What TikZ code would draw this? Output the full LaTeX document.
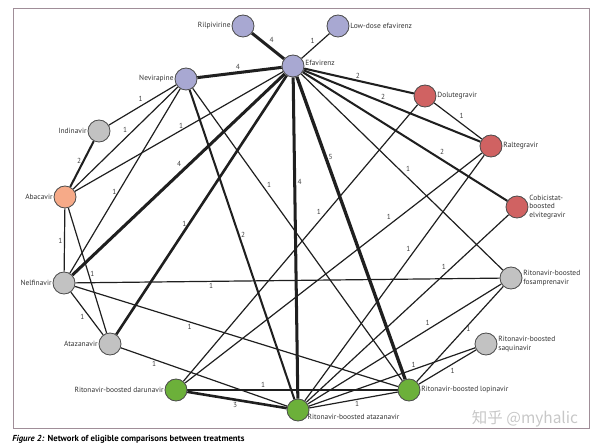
\documentclass[tikz,border=0pt]{standalone}
\usepackage{fontspec}
\setmainfont{PT Sans}
\newfontfamily\cjkfont{Noto Sans CJK SC}
\usepackage{tikz}
\usetikzlibrary{calc}
\pgfdeclarelayer{background}
\pgfsetlayers{background,main}
\definecolor{nnrti}{RGB}{168,168,210}
\definecolor{insti}{RGB}{208,98,98}
\definecolor{nrti}{RGB}{246,170,136}
\definecolor{pigray}{RGB}{194,194,194}
\definecolor{boosted}{RGB}{108,176,58}
\definecolor{framecol}{RGB}{160,142,152}
\tikzstyle{drug}  = [circle, minimum size=0.55cm, inner sep=0pt, draw=black!70, line width=0.6pt, label distance=1.2pt]
\tikzstyle{lbl}   = [font=\fontsize{5.3}{6}\selectfont, text=black!80, align=left, inner sep=0.5pt]
\tikzstyle{num}   = [font=\fontsize{5.2}{6}\selectfont, text=black!75, inner sep=1pt]
\tikzstyle{w1}    = [line width=0.85pt]
\tikzstyle{w2}    = [line width=1.45pt]
\tikzstyle{w3}    = [line width=1.85pt]
\tikzstyle{w4}    = [line width=2.15pt]
\tikzstyle{w5}    = [line width=2.35pt]

\begin{document}
\begin{tikzpicture}[x=0.025cm, y=-0.025cm]
  \useasboundingbox (0,0) rectangle (600,446);
  \draw[framecol, line width=0.7pt] (13,8) rectangle (589,428);
  % treatments
  \node[drug, fill=nnrti, label={[lbl]left:Rilpivirine}] (rpv) at (243,26) {};
  \node[drug, fill=nnrti, label={[lbl]right:Low-dose efavirenz}] (lde) at (338,26) {};
  \node[drug, fill=nnrti, label={[lbl, yshift=2.5pt]right:Efavirenz}] (efv) at (293,66) {};
  \node[drug, fill=nnrti, label={[lbl]left:Nevirapine}] (nvp) at (186,79) {};
  \node[drug, fill=insti, label={[lbl]right:Dolutegravir}] (dtg) at (425,96) {};
  \node[drug, fill=insti, label={[lbl]right:Raltegravir}] (ral) at (491,146) {};
  \node[drug, fill=insti, label={[lbl]right:Cobicistat-\\boosted\\elvitegravir}] (evg) at (517,207) {};
  \node[drug, fill=pigray, label={[lbl]left:Indinavir}] (idv) at (99,131) {};
  \node[drug, fill=nrti, label={[lbl]left:Abacavir}] (abc) at (65,197) {};
  \node[drug, fill=pigray, label={[lbl]left:Nelfinavir}] (nfv) at (64,283) {};
  \node[drug, fill=pigray, label={[lbl]left:Atazanavir}] (atv) at (110,344) {};
  \node[drug, fill=boosted, label={[lbl]left:Ritonavir-boosted darunavir}] (drv) at (176,390) {};
  \node[drug, fill=boosted, label={[lbl, anchor=west]-40:Ritonavir-boosted atazanavir}] (atvr) at (298,410) {};
  \node[drug, fill=boosted, label={[lbl]right:Ritonavir-boosted lopinavir}] (lpv) at (409,390) {};
  \node[drug, fill=pigray, label={[lbl]right:Ritonavir-boosted\\saquinavir}] (sqv) at (486,344) {};
  \node[drug, fill=pigray, label={[lbl]right:Ritonavir-boosted\\fosamprenavir}] (fpv) at (511,278) {};
  % comparisons
  \begin{pgfonlayer}{background}
  \foreach \a/\b/\w/\n/\p/\s in {
      rpv/efv/w4/4/0.46/above right, efv/lde/w1/1/0.54/above left,
      nvp/efv/w4/4/0.48/above, efv/dtg/w2/2/0.49/above,
      efv/ral/w2/2/0.45/above, efv/evg/w2/2/0.66/above right,
      dtg/ral/w1/1/0.49/above right, efv/lpv/w5/5/0.265/right,
      efv/atvr/w4/4/0.324/right, efv/fpv/w1/1/0.51/above right,
      drv/dtg/w1/1/0.596/above left, drv/ral/w1/1/0.70/above left,
      atvr/ral/w1/1/0.60/above left, atvr/evg/w1/1/0.70/above left,
      idv/nvp/w1/1/0.53/above left, abc/nvp/w1/1/0.535/above left,
      abc/efv/w1/1/0.51/above, abc/idv/w2/2/0.57/left,
      nfv/efv/w4/4/0.526/above left, nfv/nvp/w1/1/0.44/left,
      atv/efv/w3/1/0.427/left, nvp/atvr/w2/2/0.468/right,
      nvp/lpv/w1/1/0.345/above right, abc/nfv/w1/1/0.52/left,
      abc/atv/w1/1/0.525/right, nfv/fpv/w1/1/0.32/below,
      nfv/atv/w1/1/0.48/below left, nfv/lpv/w1/1/0.355/below,
      atv/atvr/w1/1/0.2/below, drv/lpv/w1/1/0.36/above,
      drv/atvr/w3/3/0.48/below, atvr/lpv/w1/1/0.54/below,
      atvr/fpv/w1/1/0.64/above left, lpv/fpv/w1/1/0.55/right,
      atvr/sqv/w1/1/0.63/above, lpv/sqv/w1/1/0.52/below right} {
    \draw[\w, black!88] (\a) -- (\b) node[num, pos=\p, \s] {\n};
  }
  \end{pgfonlayer}
  \node[anchor=west, inner sep=0pt, font=\fontsize{6.2}{7}\selectfont] (caption) at (12,439)
    {\textbf{\textit{Figure 2:}} \textbf{Network of eligible comparisons between treatments}};
  \node[text=black!22, inner sep=0pt, font=\cjkfont\fontsize{11}{12}\selectfont] (mark) at (525,419) {知乎 @myhalic};
\end{tikzpicture}
\end{document}
